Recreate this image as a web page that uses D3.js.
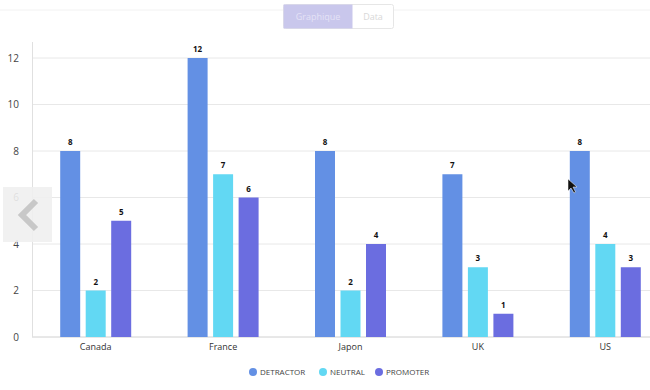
<!DOCTYPE html>
<html><head><meta charset="utf-8">
<script src="https://cdn.jsdelivr.net/npm/d3@7/dist/d3.min.js"></script>
<style>body{margin:0;background:#fff;font-family:"Open Sans",sans-serif}</style>
</head><body><svg id="c" width="650" height="390"></svg>
<script>
const categories = ["Canada","France","Japon","UK","US"];
const seriesNames = ["DETRACTOR","NEUTRAL","PROMOTER"];
const detractor = [8,12,8,7,8];
const neutral = [2,7,2,3,4];
const promoter = [5,6,4,1,3];
const yTicks = [0,2,4,6,8,10,12];
const colors = ["#6390e4","#62d8f3","#6b6de0"];

const svg = d3.select("#c");
const series = [detractor, neutral, promoter];
const x = d3.scaleBand().domain(categories).range([32,669]);
const x1 = d3.scaleBand().domain(seriesNames).range([0,x.bandwidth()]).paddingInner(0.216).paddingOuter(1.106);
const y = d3.scaleLinear().domain([0,12]).range([337,58]);

// faint top line
svg.append("line").attr("x1",0).attr("x2",650).attr("y1",10).attr("y2",10).attr("stroke","#f2f2f2");

// gridlines
svg.append("g").selectAll("line").data(yTicks).join("line")
  .attr("x1",32).attr("x2",650).attr("y1",d=>y(d)).attr("y2",d=>y(d))
  .attr("stroke",d=>d===0?"#d0d0d0":"#e8e8e8");
svg.append("line").attr("x1",32.5).attr("x2",32.5).attr("y1",42).attr("y2",337).attr("stroke","#e0e0e0");

// y labels
const yAxis = d3.axisLeft(y).tickValues(yTicks).tickSize(0).tickPadding(0);
const ga = svg.append("g").attr("transform","translate(19,0)").call(yAxis);
ga.select(".domain").remove();
ga.selectAll("text").attr("font-size",10).attr("fill","#444").attr("font-family","Open Sans, sans-serif");

// x labels
const gx = svg.append("g").attr("transform","translate(0,337)").call(d3.axisBottom(x).tickSize(0).tickPadding(7));
gx.select(".domain").remove();
gx.selectAll("text").attr("font-size",9).attr("fill","#333").attr("font-family","Open Sans, sans-serif");

// bars
seriesNames.forEach((s,i)=>{
  const g = svg.append("g");
  g.selectAll("rect").data(categories).join("rect")
    .attr("x",c=>x(c)+x1(s)).attr("width",x1.bandwidth())
    .attr("y",(c,j)=>y(series[i][j])).attr("height",(c,j)=>y(0)-y(series[i][j]))
    .attr("fill",colors[i]);
  g.selectAll("text").data(categories).join("text")
    .attr("x",c=>x(c)+x1(s)+x1.bandwidth()/2).attr("y",(c,j)=>y(series[i][j])-6)
    .attr("text-anchor","middle").attr("font-size",8).attr("font-weight","bold").attr("fill","#111")
    .text((c,j)=>series[i][j]);
});

// legend
const legX = [253,323,379];
seriesNames.forEach((s,i)=>{
  svg.append("circle").attr("cx",legX[i]).attr("cy",372).attr("r",4).attr("fill",colors[i]);
  svg.append("text").attr("x",legX[i]+7).attr("y",375).attr("font-size",8).attr("fill","#444")
    .attr("font-family","Open Sans, sans-serif").text(s);
});

// toggle buttons
svg.append("rect").attr("x",283.5).attr("y",4.5).attr("width",110).attr("height",24).attr("rx",2).attr("fill","#fff").attr("stroke","#e6e6e6");
svg.append("rect").attr("x",283.5).attr("y",4.5).attr("width",69).attr("height",24).attr("fill","#c9c7ec");
svg.append("text").attr("x",318).attr("y",20).attr("text-anchor","middle").attr("font-size",9).attr("fill","#e4e2f6").text("Graphique");
svg.append("text").attr("x",373).attr("y",20).attr("text-anchor","middle").attr("font-size",9).attr("fill","#d8d8d8").text("Data");

// left nav arrow
svg.append("rect").attr("x",3).attr("y",187).attr("width",49).attr("height",55).attr("fill","#efefef").attr("opacity",0.9);
svg.append("path").attr("d","M36,201 L22,215 L36,229").attr("fill","none").attr("stroke","#c8c8c8").attr("stroke-width",6);

// cursor
svg.append("path").attr("d","M568,179 L568,191 L571,188 L574,193 L575.5,192 L573,187 L577,187 Z").attr("fill","#111").attr("stroke","#fff").attr("stroke-width",0.5);
</script></body></html>
